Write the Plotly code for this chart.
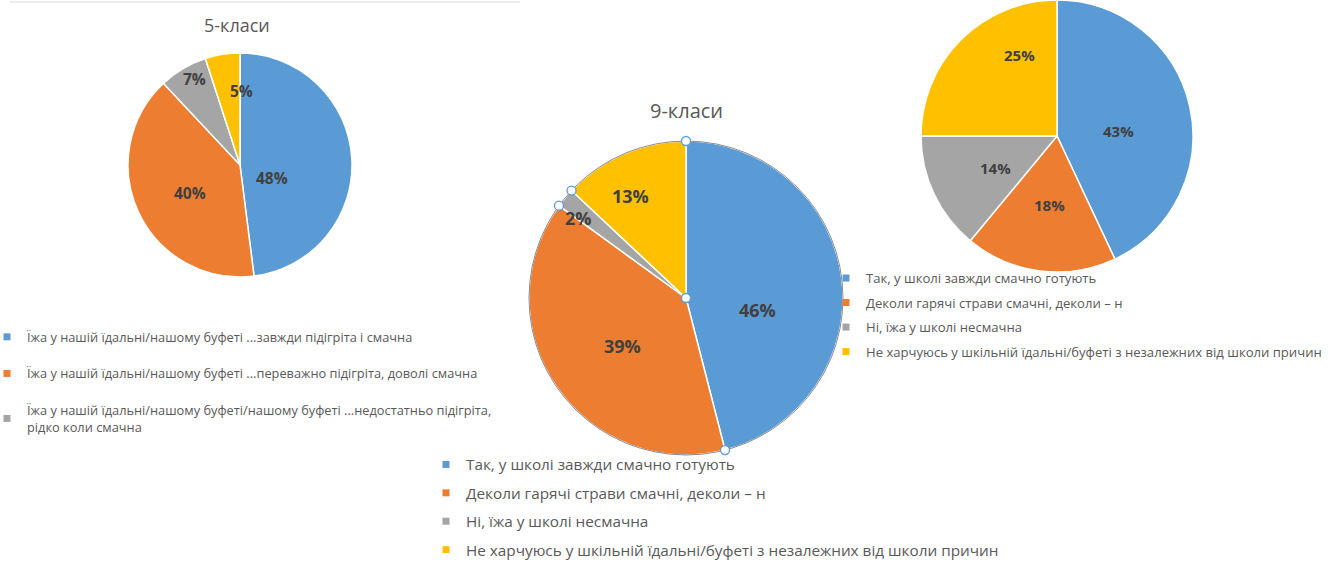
import math
import plotly.graph_objects as go

# ---------------- data ----------------
title_5 = "5-класи"
title_9 = "9-класи"

labels_5 = [
    "Їжа у нашій їдальні/нашому буфеті ...завжди підігріта і смачна",
    "Їжа у нашій їдальні/нашому буфеті ...переважно підігріта, доволі смачна",
    "Їжа у нашій їдальні/нашому буфеті/нашому буфеті ...недостатньо підігріта,<br>рідко коли смачна",
    "Не харчуюсь у шкільній їдальні/буфеті з незалежних від школи причин",
]
values_5 = [48, 40, 7, 5]
legend_count_5 = 3  # only three entries are visible in the source legend

labels_school = [
    "Так, у школі завжди смачно готують",
    "Деколи гарячі страви смачні, деколи – н",
    "Ні, їжа у школі несмачна",
    "Не харчуюсь у шкільній їдальні/буфеті з незалежних від школи причин",
]
values_9 = [46, 39, 2, 13]
values_right = [43, 18, 14, 25]

colors = ["#5B9BD5", "#ED7D31", "#A5A5A5", "#FFC000"]

# ---------------- styling ----------------
W, H = 1334, 561
FONT = "Open Sans"
TXT = "#595959"
LBL = "#404040"

# label placement: distance from centre (fraction of radius) and angular nudge (deg)
label_r_5 = [0.31, 0.51, 0.87, 0.66]
label_a_5 = [26, -4, 3, 10]
label_r_9 = [0.46, 0.51, 0.85, 0.74]
label_a_9 = [17, -3, -3, -5]
label_r_right = [0.45, 0.51, 0.51, 0.66]
label_a_right = [8, -1, -2.5, 20]

pies = [
    # values, labels, centre (px), radius (px), label font size, label radii, nudges
    (values_5, labels_5, (240, 165), 112, 15.5, label_r_5, label_a_5),
    (values_9, labels_school, (686, 298), 157, 18, label_r_9, label_a_9),
    (values_right, labels_school, (1057, 136), 136, 15, label_r_right, label_a_right),
]


def dom(cx, cy, r):
    return dict(x=[(cx - r) / W, (cx + r) / W], y=[1 - (cy + r) / H, 1 - (cy - r) / H])


fig = go.Figure()
annotations = []
for vals, labs, (cx, cy), r, fs, lr, la in pies:
    fig.add_trace(go.Pie(
        values=vals, labels=labs, sort=False, direction="clockwise", rotation=0,
        marker=dict(colors=colors, line=dict(color="white", width=1.5)),
        textinfo="none", domain=dom(cx, cy, r), showlegend=False,
        hoverinfo="label+percent",
    ))
    tot = sum(vals)
    cum = 0
    for v, f, a in zip(vals, lr, la):
        mid = 2 * math.pi * (cum + v / 2) / tot + math.radians(a)
        cum += v
        annotations.append(dict(
            text=f"{v}%", x=cx + f * r * math.sin(mid), y=cy - f * r * math.cos(mid),
            xref="x", yref="y", showarrow=False,
            font=dict(family=FONT, size=fs, color=LBL, weight="bold"),
        ))


# legends (built from the label lists)
def add_legend(labs, legend_id, n=None):
    for i, lab in enumerate(labs[: n or len(labs)]):
        fig.add_trace(go.Scatter(
            x=[None], y=[None], mode="markers", name=lab,
            marker=dict(symbol="square", size=7, color=colors[i]),
            legend=legend_id, legendgroup=f"{legend_id}_{i}", showlegend=True,
            hoverinfo="skip",
        ))


add_legend(labels_5, "legend", legend_count_5)
add_legend(labels_school, "legend2")
add_legend(labels_school, "legend3")

# selection handles on the 9-класи pie, derived from its cumulative shares
cx9, cy9 = pies[1][2]
r9 = pies[1][3]
tot9 = sum(values_9)
cum = 0
handle_pts = [(cx9, cy9)]
for v in values_9:
    ang = 2 * math.pi * cum / tot9
    handle_pts.append((cx9 + r9 * math.sin(ang), cy9 - r9 * math.cos(ang)))
    cum += v

shapes = [
    dict(type="line", xref="x", yref="y", x0=10, x1=520, y0=2, y1=2,
         line=dict(color="#D9D9D9", width=1)),
    dict(type="circle", xref="x", yref="y", x0=cx9 - r9, x1=cx9 + r9, y0=cy9 - r9, y1=cy9 + r9,
         line=dict(color="#8C8C8C", width=1), layer="above"),
]
for (hx, hy) in handle_pts:
    shapes.append(dict(type="circle", xref="x", yref="y", x0=hx - 4.5, x1=hx + 4.5,
                       y0=hy - 4.5, y1=hy + 4.5, fillcolor="white",
                       line=dict(color="#5B9BD5", width=1.3), layer="above"))

annotations += [
    dict(text=title_5, x=237, y=25, xref="x", yref="y", showarrow=False,
         font=dict(family=FONT, size=18, color=TXT)),
    dict(text=title_9, x=686, y=110, xref="x", yref="y", showarrow=False,
         font=dict(family=FONT, size=20, color=TXT)),
]

leg_common = dict(bgcolor="rgba(0,0,0,0)", traceorder="grouped", xanchor="left", yanchor="top",
                  itemclick=False, itemdoubleclick=False)

fig.update_layout(
    width=W, height=H, margin=dict(l=0, r=0, t=0, b=0, autoexpand=False),
    paper_bgcolor="white", plot_bgcolor="white",
    xaxis=dict(range=[0, W], visible=False, domain=[0, 1], fixedrange=True),
    yaxis=dict(range=[H, 0], visible=False, domain=[0, 1], fixedrange=True),
    shapes=shapes,
    annotations=annotations,
    hovermode="closest",
    legend=dict(x=-13 / W, y=1 - 322 / H, font=dict(family=FONT, size=12.8, color=TXT),
                tracegroupgap=17, **leg_common),
    legend2=dict(x=426 / W, y=1 - 448 / H, font=dict(family=FONT, size=15.3, color=TXT),
                 tracegroupgap=5.5, **leg_common),
    legend3=dict(x=826 / W, y=1 - 263 / H, font=dict(family=FONT, size=13.1, color=TXT),
                 tracegroupgap=4.5, **leg_common),
)

fig.write_html("out.html", config={"displayModeBar": False},
               post_script="document.body.style.margin='0';")
